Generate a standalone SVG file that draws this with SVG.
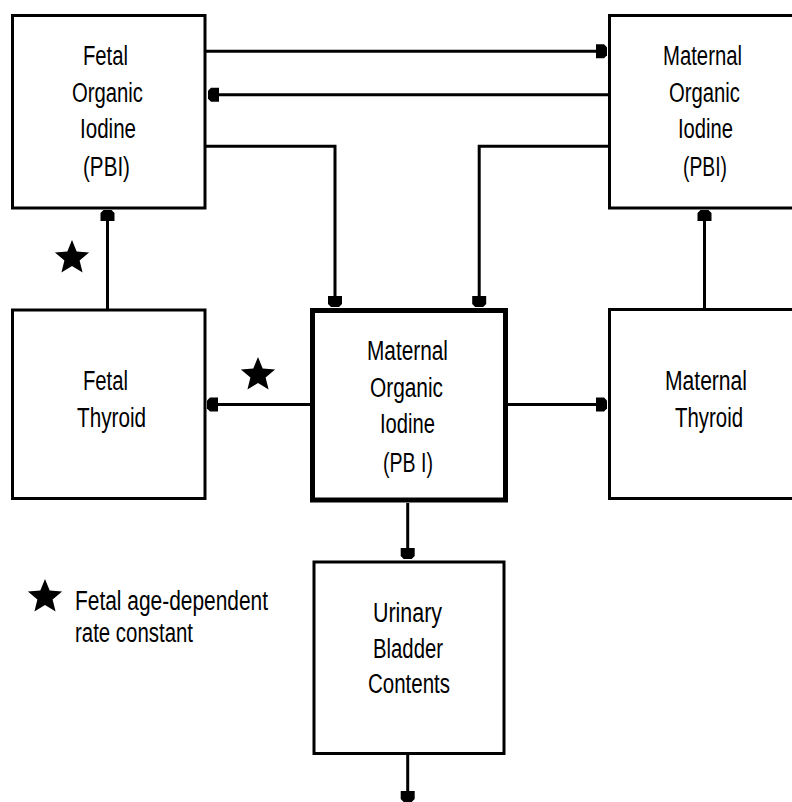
<svg xmlns="http://www.w3.org/2000/svg" xmlns:xlink="http://www.w3.org/1999/xlink" width="792" height="802" viewBox="0 0 792 802">
<style>
.box{fill:#fff;stroke:#000;stroke-width:3}
.thick{stroke-width:5}
.con{fill:none;stroke:#000;stroke-width:3}
.t{font-family:"Liberation Sans",Arial,sans-serif;font-size:27px;fill:#000}
</style>
<defs>
<marker id="ah" viewBox="-12 -8 12 16" markerWidth="12" markerHeight="16" refX="0" refY="0" orient="auto" markerUnits="userSpaceOnUse">
<path d="M-11,-7 H-3 L0,-4 V4 L-3,7 H-11 Z" fill="#000"/>
</marker>
<polygon id="star" points="0,-18 4.7,-6.47 17.12,-5.56 7.61,2.47 10.58,14.56 0,8 -10.58,14.56 -7.61,2.47 -17.12,-5.56 -4.7,-6.47" fill="#000"/>
</defs>
<rect width="792" height="802" fill="#fff"/>
<g id="connectors">
<path class="con" d="M206,51.3 H607" marker-end="url(#ah)"/>
<path class="con" d="M608,94.7 H208" marker-end="url(#ah)"/>
<path class="con" d="M206,146.2 H335 V307" marker-end="url(#ah)"/>
<path class="con" d="M608,146.2 H479.2 V307" marker-end="url(#ah)"/>
<path class="con" d="M107.5,309 V210" marker-end="url(#ah)"/>
<path class="con" d="M704.5,309 V210" marker-end="url(#ah)"/>
<path class="con" d="M310,404.5 H207" marker-end="url(#ah)"/>
<path class="con" d="M508,404.5 H607" marker-end="url(#ah)"/>
<path class="con" d="M407.7,503 V559" marker-end="url(#ah)"/>
<path class="con" d="M407.7,755 V802" marker-end="url(#ah)"/>
</g>
<g id="fetal-organic-iodine">
<rect class="box" x="12.5" y="15.5" width="192.5" height="192.5"/>
<text class="t" x="83" y="65" textLength="45" lengthAdjust="spacingAndGlyphs">Fetal</text>
<text class="t" x="72" y="102" textLength="71" lengthAdjust="spacingAndGlyphs">Organic</text>
<text class="t" x="80" y="138" textLength="56" lengthAdjust="spacingAndGlyphs">Iodine</text>
<text class="t" x="83" y="176" textLength="47" lengthAdjust="spacingAndGlyphs">(PBI)</text>
</g>
<g id="maternal-organic-iodine">
<rect class="box" x="609.5" y="15.5" width="200" height="192.5"/>
<text class="t" x="663" y="65" textLength="79" lengthAdjust="spacingAndGlyphs">Maternal</text>
<text class="t" x="669" y="102" textLength="71" lengthAdjust="spacingAndGlyphs">Organic</text>
<text class="t" x="678" y="138" textLength="55" lengthAdjust="spacingAndGlyphs">Iodine</text>
<text class="t" x="683" y="176" textLength="44" lengthAdjust="spacingAndGlyphs">(PBI)</text>
</g>
<g id="fetal-thyroid">
<rect class="box" x="12.5" y="310" width="192.5" height="188.5"/>
<text class="t" x="83" y="390" textLength="45" lengthAdjust="spacingAndGlyphs">Fetal</text>
<text class="t" x="77" y="427" textLength="69" lengthAdjust="spacingAndGlyphs">Thyroid</text>
</g>
<g id="central-maternal-organic-iodine">
<rect class="box thick" x="312.5" y="310.5" width="193" height="189.5"/>
<text class="t" x="367" y="360" textLength="81" lengthAdjust="spacingAndGlyphs">Maternal</text>
<text class="t" x="370" y="397" textLength="73" lengthAdjust="spacingAndGlyphs">Organic</text>
<text class="t" x="380" y="433" textLength="55" lengthAdjust="spacingAndGlyphs">Iodine</text>
<text class="t" x="383" y="472" textLength="50" lengthAdjust="spacingAndGlyphs">(PB I)</text>
</g>
<g id="maternal-thyroid">
<rect class="box" x="609.5" y="309.5" width="200" height="189"/>
<text class="t" x="665" y="390" textLength="82" lengthAdjust="spacingAndGlyphs">Maternal</text>
<text class="t" x="675" y="427" textLength="68" lengthAdjust="spacingAndGlyphs">Thyroid</text>
</g>
<g id="urinary-bladder">
<rect class="box" x="314" y="562" width="190" height="191.5"/>
<text class="t" x="373" y="622" textLength="69" lengthAdjust="spacingAndGlyphs">Urinary</text>
<text class="t" x="373" y="658" textLength="70" lengthAdjust="spacingAndGlyphs">Bladder</text>
<text class="t" x="368" y="693" textLength="82" lengthAdjust="spacingAndGlyphs">Contents</text>
</g>
<g id="stars">
<use xlink:href="#star" href="#star" transform="translate(72,258)"/>
<use xlink:href="#star" href="#star" transform="translate(258,375)"/>
</g>
<g id="legend">
<use xlink:href="#star" href="#star" transform="translate(45,597)"/>
<text class="t" x="75" y="610" textLength="193" lengthAdjust="spacingAndGlyphs">Fetal age-dependent</text>
<text class="t" x="75" y="642" textLength="118" lengthAdjust="spacingAndGlyphs">rate constant</text>
</g>
</svg>
